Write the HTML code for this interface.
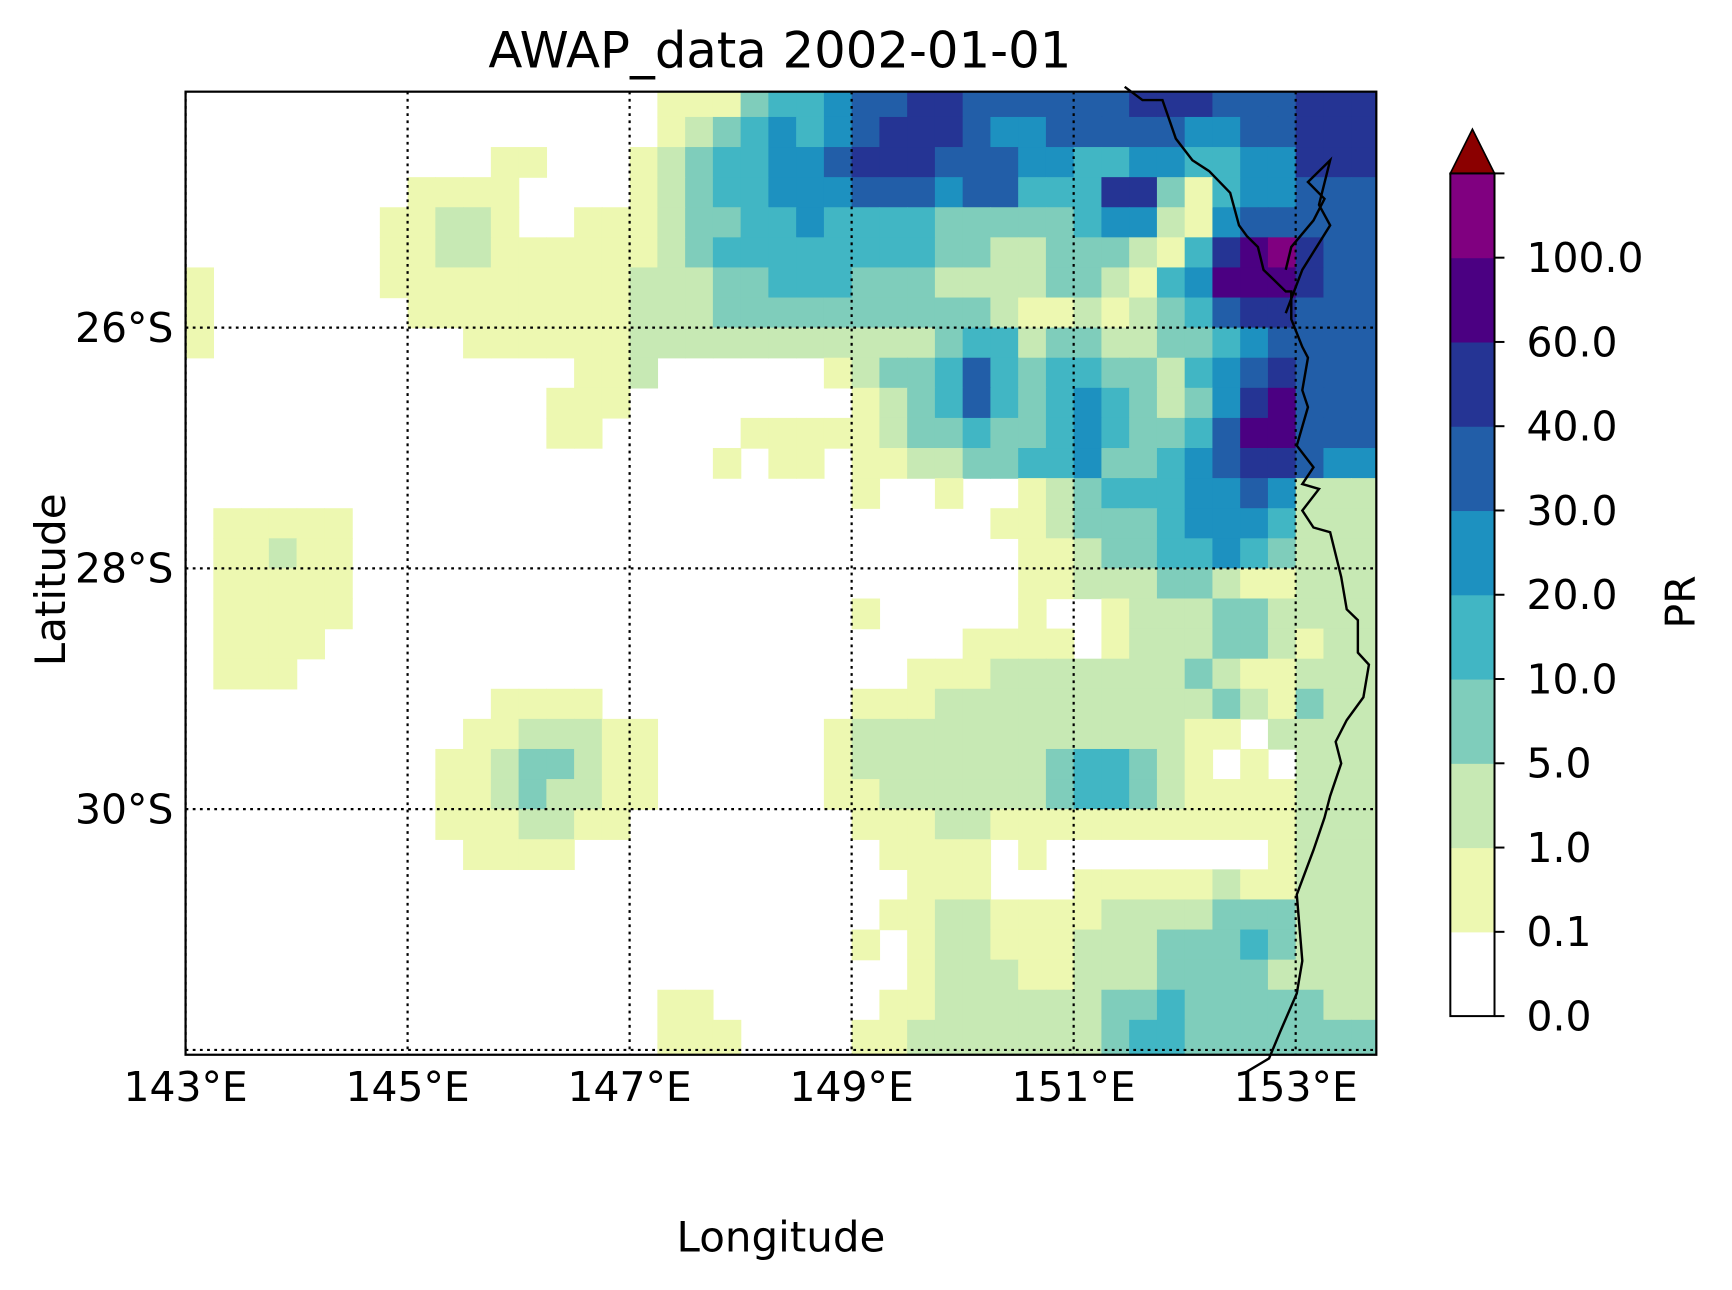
<!DOCTYPE html>
<html><head><meta charset="utf-8"><title>AWAP_data 2002-01-01</title>
<style>
html,body{margin:0;padding:0;background:#fff;}
svg{display:block;}
text{font-family:"DejaVu Sans","Liberation Sans",sans-serif;fill:#000;}
</style></head>
<body>
<svg id="chart" width="1732" height="1290" viewBox="0 0 1568 1168" preserveAspectRatio="none" xmlns="http://www.w3.org/2000/svg">
  <rect x="0" y="0" width="1568" height="1168" fill="#fff"/>
  <text x="706" y="61" font-size="45" text-anchor="middle">AWAP_data 2002-01-01</text>
  <g id="cells"></g>
  <g id="grid"></g>
  <g id="coast"></g>
  <rect x="168" y="83" width="1078" height="872" fill="none" stroke="#000" stroke-width="2"/>
  <g id="xticks"></g>
  <g id="yticks"></g>
  <text x="707" y="1133" font-size="38" text-anchor="middle">Longitude</text>
  <text x="0" y="0" font-size="38" text-anchor="middle" transform="translate(59,525) rotate(-90)">Latitude</text>
  <g id="cbar"></g>
  <text x="0" y="0" font-size="37" text-anchor="middle" transform="translate(1534,545) rotate(-90)">PR</text>
</svg>
<script>
// ---- data ----
const levelBounds = [0, 0.1, 1, 5, 10, 20, 30, 40, 60, 100];
const levelLabels = ["0.0","0.1","1.0","5.0","10.0","20.0","30.0","40.0","60.0","100.0"];
const levelColors = ["#ffffff","#edf8b1","#c7e9b4","#7fcdbb","#41b6c4","#1d91c0","#225ea8","#253494","#4b0082","#800080"];
const extendColor = "#8b0000";
const lonTicks = [143, 145, 147, 149, 151, 153];
const latTicks = [-26, -28, -30, -32];
const lonStart = 143, lonStep = 0.25;
const latStart = -24, latStep = -0.25;
const z = (n) => "0".repeat(n);
// precipitation level index per 0.25° cell (row = latitude from 24°S southwards)
const precipRows = [
  "0000000000000000011134456677666666777666777",
  z(17)+"12345456777655666665566777",
  z(11)+"11"+"000"+"1234455"+"6777666"+"5544554455"+"777",
  z(8)+"1111"+"0000"+"123"+"44"+"555"+"666"+"5"+"66"+"444"+"77"+"314"+"55"+"666",
  z(7)+"11221"+"00"+"111"+"2334454"+"444"+"3"+"333"+"3"+"455"+"21"+"566"+"666",
  z(7)+"11"+"22"+"111111"+"2"+"3"+"44"+"44"+"444"+"4"+"3"+"3"+"22"+"333"+"2"+"1"+"4"+"7"+"8"+"9"+"7"+"66",
  "1"+z(6)+"111111111"+"222"+"33"+"444"+"333"+"22"+"22"+"33"+"2"+"1"+"4"+"5"+"888"+"7"+"66",
  "1"+z(7)+"1111111"+"1"+"222"+"33333"+"3333"+"3"+"2"+"1"+"1"+"2"+"1"+"2"+"3"+"4"+"6"+"77"+"6"+"66",
  "1"+z(9)+"11111"+"1"+"2"+"2222222"+"222"+"3"+"4"+"4"+"2"+"3"+"3"+"2"+"2"+"3"+"3"+"4"+"5"+"6"+"666",
  z(14)+"11"+"2"+z(6)+"1"+"2"+"33"+"4"+"6"+"4"+"3"+"44"+"33"+"2"+"4"+"5"+"6"+"7"+"6"+"66",
  z(13)+"111"+z(8)+"1234643454323578666",
  z(13)+"11"+z(5)+"1111"+"1233433454334688666",
  z(19)+"1"+"0"+"11"+"0"+"1122334453345677655",
  z(24)+"1"+"00"+"1"+"00"+"1"+"234445565222",
  "0"+"11111"+z(23)+"11233345554222",
  "0"+"11211"+z(24)+"1123344543222",
  "0"+"11111"+z(24)+"1122233211222",
  "0"+"11111"+z(18)+"1"+z(5)+"1"+"00"+"1222332222",
  "0"+"1111"+z(23)+"111101222332122",
  "0"+"111"+z(22)+"11122222223211222",
  z(11)+"1111"+z(9)+"1112222222222321322",
  z(10)+"1122211"+z(6)+"12222222222221102222",
  z(9)+"11233211"+z(6)+"12222222344321010222",
  z(9)+"11232211"+z(6)+"11222222344321111222",
  z(9)+"1112211"+z(8)+"1112211111111111222",
  z(10)+"1111"+z(11)+"1111"+"0100000000"+"1222",
  z(26)+"11100011111211222",
  z(25)+"112211112222333222",
  z(24)+"1012211122233343222",
  z(26)+"12221122233332222",
  z(17)+"11"+z(6)+"112222223343333322",
  z(17)+"111"+z(4)+"1122222223443333333"
];
// coastline (lon, lat)
const coastLon = [151.46,151.62,151.8,151.92,152.07,152.22,152.41,152.49,152.56,152.66,152.71,152.91,152.96,152.96,153.06,153.11,153.06,153.11,153.01,153.16,153.06,153.21,153.06,153.16,153.31,153.41,153.46,153.56,153.56,153.66,153.61,153.46,153.36,153.41,153.31,153.26,153.16,153.01,153.06,153.01,152.86,152.76,152.56];
const coastLat = [-24.0,-24.11,-24.11,-24.43,-24.61,-24.7,-24.88,-25.15,-25.24,-25.33,-25.52,-25.7,-25.7,-25.93,-26.16,-26.25,-26.52,-26.66,-26.98,-27.16,-27.3,-27.34,-27.52,-27.66,-27.7,-28.07,-28.34,-28.43,-28.7,-28.8,-29.07,-29.26,-29.44,-29.62,-29.89,-30.07,-30.34,-30.71,-31.26,-31.53,-31.85,-32.07,-32.18];
const islandLon = [152.91,153.06,153.31,153.21,153.31,153.11,153.26,153.16,152.96,152.91];
const islandLat = [-25.88,-25.52,-25.15,-24.98,-24.61,-24.79,-24.93,-25.11,-25.33,-25.52];

// ---- axes ----
const X0 = 168, XPD = 100.5, Y0 = 83, YPD = 109;
const xOf = (lon) => X0 + (lon - lonStart) * XPD;
const yOf = (lat) => Y0 + (latStart - 0.04 - lat) * YPD;
const NS = "http://www.w3.org/2000/svg";
function mk(tag, attrs, parent) {
  const e = document.createElementNS(NS, tag);
  for (const k in attrs) e.setAttribute(k, attrs[k]);
  parent.appendChild(e);
  return e;
}
// cells
const cellsG = document.getElementById("cells");
precipRows.forEach((row, r) => {
  const la0 = latStart + r * latStep;
  for (let c = 0; c < row.length; c++) {
    const lv = +row[c];
    if (lv === 0) continue;
    const lo0 = lonStart + c * lonStep;
    const x1 = xOf(lo0), x2 = Math.min(xOf(lo0 + lonStep), 1246);
    const y1 = Math.max(yOf(la0), 83), y2 = Math.min(r === precipRows.length - 1 ? 955 : yOf(la0 + latStep), 955);
    const rc = mk("rect", {x: x1.toFixed(2), y: y1.toFixed(2), width: (x2 - x1 + 0.6).toFixed(2), height: (y2 - y1 + 0.6).toFixed(2), fill: levelColors[lv]}, cellsG);
    
    
  }
});
// graticule
const gridG = document.getElementById("grid");
lonTicks.forEach((lo) => {
  const x = xOf(lo);
  const l = mk("line", {x1: x, y1: 83, x2: x, y2: 955, stroke: "#000", "stroke-width": 2, "stroke-dasharray": "2.5,4"}, gridG);
  
  
});
latTicks.forEach((la) => {
  const y = Math.min(yOf(la), 953);
  const l = mk("line", {x1: 168, y1: y, x2: 1246, y2: y, stroke: "#000", "stroke-width": 2, "stroke-dasharray": "2.5,4"}, gridG);
  
  
});
// coastline
const coastG = document.getElementById("coast");
const pts = coastLon.map((lo, i) => xOf(lo).toFixed(1) + "," + yOf(coastLat[i]).toFixed(1)).join(" ");
const cl = mk("polyline", {points: pts, fill: "none", stroke: "#000", "stroke-width": 2.2, "stroke-linejoin": "miter"}, coastG);


const ipts = islandLon.map((lo, i) => xOf(lo).toFixed(1) + "," + yOf(islandLat[i]).toFixed(1)).join(" ");
const il = mk("polyline", {points: ipts, fill: "none", stroke: "#000", "stroke-width": 2.2}, coastG);


// tick labels
const xtG = document.getElementById("xticks");
lonTicks.forEach((lo) => {
  const t = mk("text", {x: xOf(lo), y: 997, "font-size": 37, "text-anchor": "middle"}, xtG);
  t.textContent = lo + "°E";
  
  
});
const ytG = document.getElementById("yticks");
latTicks.forEach((la) => {
  const y = yOf(la);
  if (y > 940) return;
  const t = mk("text", {x: 157, y: y + 13, "font-size": 37, "text-anchor": "end"}, ytG);
  t.textContent = (-la) + "°S";
  
  
});
// colorbar
const cbG = document.getElementById("cbar");
const CBX = 1313, CBW = 40, CBTOP = 157, CBBOT = 920;
const nb = levelColors.length;
const bh = (CBBOT - CBTOP) / nb;
levelColors.forEach((col, i) => {
  const r = mk("rect", {x: CBX, y: (CBBOT - (i + 1) * bh).toFixed(2), width: CBW, height: (bh + 0.5).toFixed(2), fill: col}, cbG);
  
  
});
const tri = mk("polygon", {points: `${CBX},${CBTOP} ${CBX + CBW / 2},117 ${CBX + CBW},${CBTOP}`, fill: extendColor, stroke: "#000", "stroke-width": 1.5}, cbG);


const fr = mk("rect", {x: CBX, y: CBTOP, width: CBW, height: CBBOT - CBTOP, fill: "none", stroke: "#000", "stroke-width": 1.8}, cbG);


levelBounds.forEach((v, i) => {
  const y = CBBOT - i * bh;
  const tk = mk("line", {x1: CBX + CBW, y1: y, x2: CBX + CBW + 9, y2: y, stroke: "#000", "stroke-width": 1.8}, cbG);
  
  
  const t = mk("text", {x: 1382, y: y + 13, "font-size": 37}, cbG);
  t.textContent = levelLabels[i];
  
  
});
const tkTop = mk("line", {x1: CBX + CBW, y1: CBTOP, x2: CBX + CBW + 9, y2: CBTOP, stroke: "#000", "stroke-width": 1.8}, cbG);


</script>
</body></html>
